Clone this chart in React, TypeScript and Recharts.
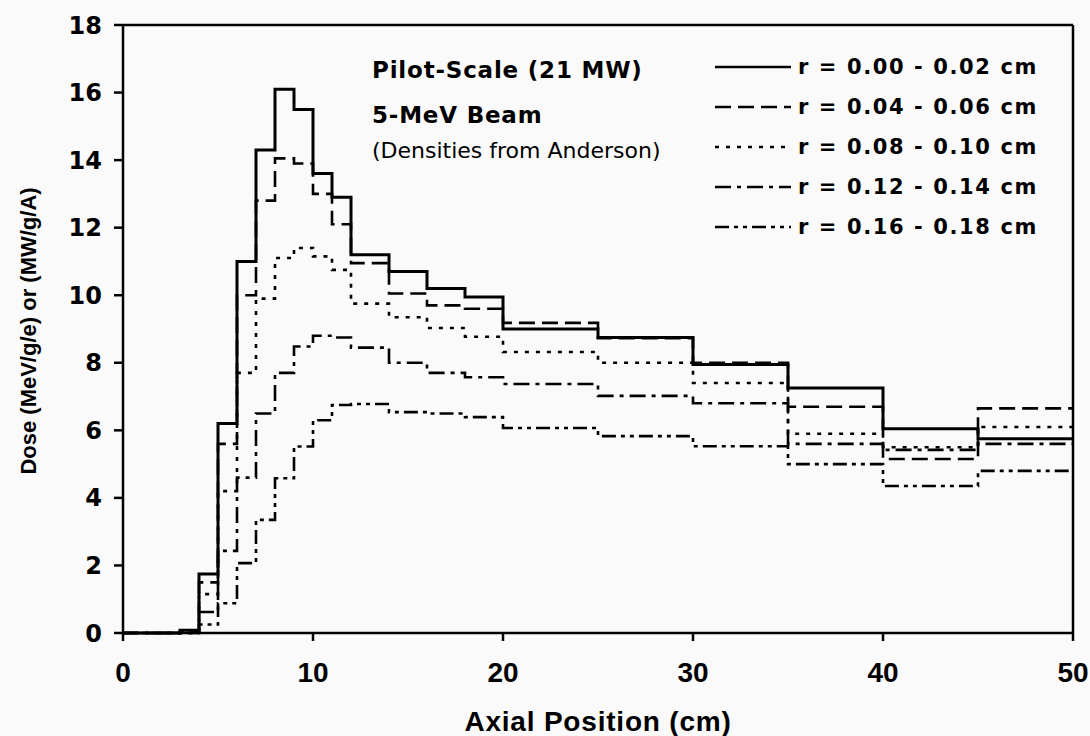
import { LineChart, Line, XAxis, YAxis, Label, ReferenceLine } from 'recharts'

// bin edges along the axis (cm); each dose value holds from its edge to the next one
const edges = [0, 3, 4, 5, 6, 7, 8, 9, 10, 11, 12, 14, 16, 18, 20, 25, 30, 35, 40, 45, 50]
const xTicks = [0, 10, 20, 30, 40, 50]
const yTicks = [0, 2, 4, 6, 8, 10, 12, 14, 16, 18]

const dose000 = [0, 0.08, 1.75, 6.2, 11.0, 14.3, 16.1, 15.5, 13.6, 12.9, 11.2, 10.7, 10.2, 9.95, 9.0, 8.75, 7.95, 7.25, 6.05, 5.75]
const dose004 = [0, 0.04, 1.5, 5.6, 10.0, 12.8, 14.05, 13.9, 13.0, 12.1, 10.95, 10.05, 9.7, 9.6, 9.18, 8.73, 8.0, 6.7, 5.15, 6.65]
const dose008 = [0, 0, 1.15, 4.2, 7.7, 9.9, 11.1, 11.4, 11.15, 10.75, 9.75, 9.35, 9.03, 8.77, 8.32, 8.0, 7.4, 5.9, 5.5, 6.1]
const dose012 = [0, 0, 0.62, 2.43, 4.6, 6.5, 7.7, 8.48, 8.8, 8.75, 8.45, 8.0, 7.7, 7.57, 7.37, 7.02, 6.8, 5.6, 5.42, 5.6]
const dose016 = [0, 0, 0.25, 0.88, 2.07, 3.35, 4.58, 5.52, 6.3, 6.75, 6.78, 6.54, 6.5, 6.39, 6.07, 5.83, 5.53, 5.0, 4.35, 4.8]

const series = [
  { key: 'r000', name: 'r = 0.00 - 0.02 cm', values: dose000, dash: undefined, width: 3 },
  { key: 'r004', name: 'r = 0.04 - 0.06 cm', values: dose004, dash: '16 7', width: 2.6 },
  { key: 'r008', name: 'r = 0.08 - 0.10 cm', values: dose008, dash: '4 7', width: 2.6 },
  { key: 'r012', name: 'r = 0.12 - 0.14 cm', values: dose012, dash: '16 6 4 6', width: 2.6 },
  { key: 'r016', name: 'r = 0.16 - 0.18 cm', values: dose016, dash: '14 5 4 5 4 5', width: 2.6 },
]

const data = edges.map((x, i) => {
  const row: Record<string, number> = { x }
  const bin = Math.min(i, edges.length - 2)
  series.forEach((s) => {
    row[s.key] = s.values[bin]
  })
  return row
})

const legendRows = [67, 107, 147, 187, 227]

export default function App() {
  return (
    <div style={{ position: 'absolute', left: 0, top: 0, width: 1090, height: 736, background: '#fafafa' }}>
      <style>{'body { margin: 0; }'}</style>
      <LineChart width={1090} height={736} data={data} margin={{ top: 25, right: 17, bottom: 0, left: 0 }}>
        <XAxis
          dataKey="x"
          type="number"
          domain={[0, 50]}
          ticks={xTicks}
          height={103}
          tickSize={8}
          tickMargin={21}
          stroke="#000"
          strokeWidth={2.5}
          tick={{ fill: '#000', fontSize: 28, fontWeight: 700, fontFamily: 'Liberation Sans, Arial, sans-serif' }}
        >
          <Label
            content={() => (
              <text
                x={598}
                y={731}
                textAnchor="middle"
                fontFamily="Liberation Sans, Arial, sans-serif"
                fontWeight={700}
                fontSize={28}
                letterSpacing={0.8}
                fill="#000"
              >
                Axial Position (cm)
              </text>
            )}
          />
        </XAxis>
        <YAxis
          type="number"
          domain={[0, 18]}
          ticks={yTicks}
          width={123}
          tickSize={9}
          tickMargin={12}
          stroke="#000"
          strokeWidth={2.5}
          tick={{ fill: '#000', fontSize: 24, fontWeight: 700, fontFamily: 'DejaVu Sans, sans-serif' }}
        >
          <Label
            content={() => (
              <text
                x={30}
                y={331}
                transform="rotate(-90 30 331)"
                textAnchor="middle"
                dominantBaseline="middle"
                fontFamily="Liberation Sans, Arial, sans-serif"
                fontWeight={700}
                fontSize={22}
                fill="#000"
              >
                Dose (MeV/g/e) or (MW/g/A)
              </text>
            )}
          />
        </YAxis>
        <YAxis
          yAxisId="inner"
          mirror
          type="number"
          domain={[0, 18]}
          ticks={yTicks}
          width={0}
          tickSize={9}
          axisLine={false}
          tickFormatter={() => ''}
          stroke="#000"
          strokeWidth={1.5}
        />
        {/* plot frame: top and right edges */}
        <ReferenceLine y={18} stroke="#000" strokeWidth={2.5} />
        <ReferenceLine x={50} stroke="#000" strokeWidth={2.5} />
        {series.map((s) => (
          <Line
            key={s.key}
            dataKey={s.key}
            name={s.name}
            type="stepAfter"
            stroke="#000"
            strokeWidth={s.width}
            strokeDasharray={s.dash}
            dot={false}
            activeDot={false}
            isAnimationActive={false}
          />
        ))}
      </LineChart>

      {/* annotation */}
      <div style={{ position: 'absolute', left: 372, top: 59, fontFamily: 'DejaVu Sans, sans-serif', fontWeight: 700, fontSize: 23, lineHeight: 1, letterSpacing: 0.8, whiteSpace: 'nowrap' }}>
        Pilot-Scale (21 MW)
      </div>
      <div style={{ position: 'absolute', left: 372, top: 104, fontFamily: 'DejaVu Sans, sans-serif', fontWeight: 700, fontSize: 23, lineHeight: 1, letterSpacing: 0.8, whiteSpace: 'nowrap' }}>
        5-MeV Beam
      </div>
      <div style={{ position: 'absolute', left: 372, top: 140, fontFamily: 'DejaVu Sans, sans-serif', fontSize: 22, lineHeight: 1, whiteSpace: 'nowrap' }}>
        (Densities from Anderson)
      </div>

      {/* legend */}
      {series.map((s, i) => (
        <div
          key={s.key}
          style={{ position: 'absolute', left: 715, top: legendRows[i] - 12, height: 24, display: 'flex', alignItems: 'center', whiteSpace: 'nowrap' }}
        >
          <svg width={76} height={6} style={{ marginRight: 7 }}>
            <line x1={0} y1={3} x2={76} y2={3} stroke="#000" strokeWidth={2.5} strokeDasharray={s.dash} />
          </svg>
          <span style={{ fontFamily: 'DejaVu Sans, sans-serif', fontWeight: 700, fontSize: 21, letterSpacing: 1.6 }}>{s.name}</span>
        </div>
      ))}
    </div>
  )
}
